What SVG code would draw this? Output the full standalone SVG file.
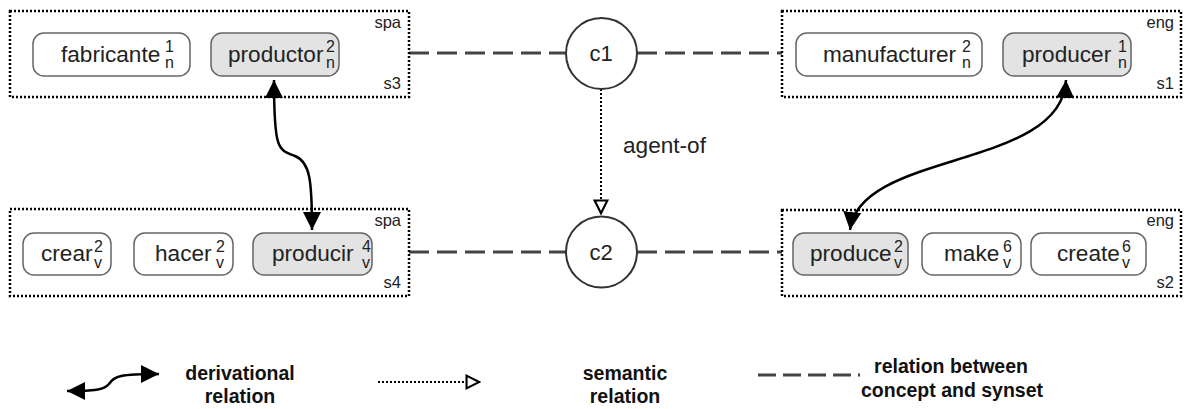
<svg xmlns="http://www.w3.org/2000/svg" width="1186" height="409" viewBox="0 0 1186 409">
<defs>
<style>
.box{fill:none;stroke:#000;stroke-width:2.5;stroke-dasharray:2,2}
.node{fill:#fff;stroke:#666;stroke-width:1.5}
.hl{fill:#e3e3e3}
.w{font-family:"Liberation Sans",Arial,sans-serif;font-size:22.6px;fill:#222}
.s{font-family:"Liberation Sans",Arial,sans-serif;font-size:16px;fill:#222}
.lab{font-family:"Liberation Sans",Arial,sans-serif;font-size:16.5px;fill:#222;text-anchor:end}
.concept{fill:#fff;stroke:#333;stroke-width:2}
.cl{font-family:"Liberation Sans",Arial,sans-serif;font-size:22px;fill:#222;text-anchor:middle}
.dash{fill:none;stroke:#444;stroke-width:3;stroke-dasharray:20,8}
.deriv{fill:none;stroke:#000;stroke-width:2.5}
.sem{fill:none;stroke:#000;stroke-width:2;stroke-dasharray:2,2}
.leg{font-family:"Liberation Sans",Arial,sans-serif;font-size:19.5px;font-weight:bold;fill:#111;text-anchor:middle}
</style>
<marker id="ah" viewBox="0 0 10 10" refX="10" refY="5" markerWidth="7.2" markerHeight="7.2" markerUnits="strokeWidth" orient="auto-start-reverse">
<path d="M0,0 L10,5 L0,10 Z" fill="#000"/>
</marker>
<marker id="oh" viewBox="0 0 12 12" refX="11" refY="6" markerWidth="8.5" markerHeight="8.5" markerUnits="strokeWidth" orient="auto">
<path d="M1.5,1.5 L10.5,6 L1.5,10.5 Z" fill="#fff" stroke="#000" stroke-width="1.5" stroke-dasharray="none"/>
</marker>
</defs>

<g id="connectors">
<line class="dash" x1="409" y1="53" x2="566" y2="53"/>
<line class="dash" x1="637" y1="53" x2="782" y2="53"/>
<line class="dash" x1="409" y1="252" x2="566" y2="252"/>
<line class="dash" x1="637" y1="252" x2="782" y2="252"/>
<line class="sem" x1="601" y1="89" x2="601" y2="214" marker-end="url(#oh)"/>
<text class="w" x="623" y="153">agent-of</text>
<path class="deriv" d="M274,80 C274,150 278,150 295,156 C310,162 312,180 312,230" marker-start="url(#ah)" marker-end="url(#ah)"/>
<path class="deriv" d="M1066,80 C1062,170 860,150 850,230" marker-start="url(#ah)" marker-end="url(#ah)"/>
</g>

<g id="s3">
<rect class="box" x="10" y="11" width="399" height="86"/>
<text class="lab" x="401" y="28">spa</text>
<text class="lab" x="401" y="89">s3</text>
<g id="fabricante"><rect class="node" x="33" y="33" width="157" height="43" rx="11"/>
<text class="w" x="61" y="62">fabricante</text><text class="s" x="165" y="52">1</text><text class="s" x="165" y="68">n</text></g>
<g id="productor"><rect class="node hl" x="211" y="33" width="128" height="43" rx="11"/>
<text class="w" x="228" y="62">productor</text><text class="s" x="326" y="52">2</text><text class="s" x="326" y="68">n</text></g>
</g>

<g id="s1">
<rect class="box" x="782" y="11" width="399" height="86"/>
<text class="lab" x="1174" y="28">eng</text>
<text class="lab" x="1174" y="89">s1</text>
<g id="manufacturer"><rect class="node" x="796" y="33" width="186" height="43" rx="11"/>
<text class="w" x="823" y="62">manufacturer</text><text class="s" x="962" y="52">2</text><text class="s" x="962" y="68">n</text></g>
<g id="producer"><rect class="node hl" x="1003" y="33" width="128" height="43" rx="11"/>
<text class="w" x="1022" y="62">producer</text><text class="s" x="1118" y="52">1</text><text class="s" x="1118" y="68">n</text></g>
</g>

<g id="s4">
<rect class="box" x="10" y="209" width="399" height="87"/>
<text class="lab" x="401" y="226">spa</text>
<text class="lab" x="401" y="288">s4</text>
<g id="crear"><rect class="node" x="23" y="233" width="88" height="42" rx="11"/>
<text class="w" x="41" y="261">crear</text><text class="s" x="94" y="252">2</text><text class="s" x="94" y="268">v</text></g>
<g id="hacer"><rect class="node" x="134" y="233" width="99" height="42" rx="11"/>
<text class="w" x="155" y="261">hacer</text><text class="s" x="216" y="252">2</text><text class="s" x="216" y="268">v</text></g>
<g id="producir"><rect class="node hl" x="253" y="233" width="119" height="42" rx="11"/>
<text class="w" x="272" y="261">producir</text><text class="s" x="362" y="252">4</text><text class="s" x="362" y="268">v</text></g>
</g>

<g id="s2">
<rect class="box" x="782" y="210" width="399" height="86"/>
<text class="lab" x="1174" y="226">eng</text>
<text class="lab" x="1174" y="288">s2</text>
<g id="produce"><rect class="node hl" x="793" y="233" width="115" height="42" rx="11"/>
<text class="w" x="810" y="261">produce</text><text class="s" x="894" y="252">2</text><text class="s" x="894" y="268">v</text></g>
<g id="make"><rect class="node" x="922" y="233" width="99" height="42" rx="11"/>
<text class="w" x="944" y="261">make</text><text class="s" x="1003" y="252">6</text><text class="s" x="1003" y="268">v</text></g>
<g id="create"><rect class="node" x="1031" y="233" width="115" height="42" rx="11"/>
<text class="w" x="1057" y="261">create</text><text class="s" x="1122" y="252">6</text><text class="s" x="1122" y="268">v</text></g>
</g>

<g id="c1"><circle class="concept" cx="601.5" cy="53.5" r="35.5"/><text class="cl" x="601" y="61">c1</text></g>
<g id="c2"><circle class="concept" cx="601.5" cy="252" r="35.5"/><text class="cl" x="601" y="260">c2</text></g>

<g id="legend">
<path class="deriv" d="M67,391 C95,391 104,390 109,384 C114,376 120,374 159,374" marker-start="url(#ah)" marker-end="url(#ah)"/>
<text class="leg" x="240" y="380">derivational</text>
<text class="leg" x="240" y="403">relation</text>
<line class="sem" x1="378" y1="382" x2="480" y2="382" marker-end="url(#oh)"/>
<text class="leg" x="625" y="380">semantic</text>
<text class="leg" x="625" y="403">relation</text>
<line x1="758" y1="375" x2="860" y2="375" stroke="#444" stroke-width="3" stroke-dasharray="18,7"/>
<text class="leg" x="951" y="373">relation between</text>
<text class="leg" x="952" y="397">concept and synset</text>
</g>
</svg>
